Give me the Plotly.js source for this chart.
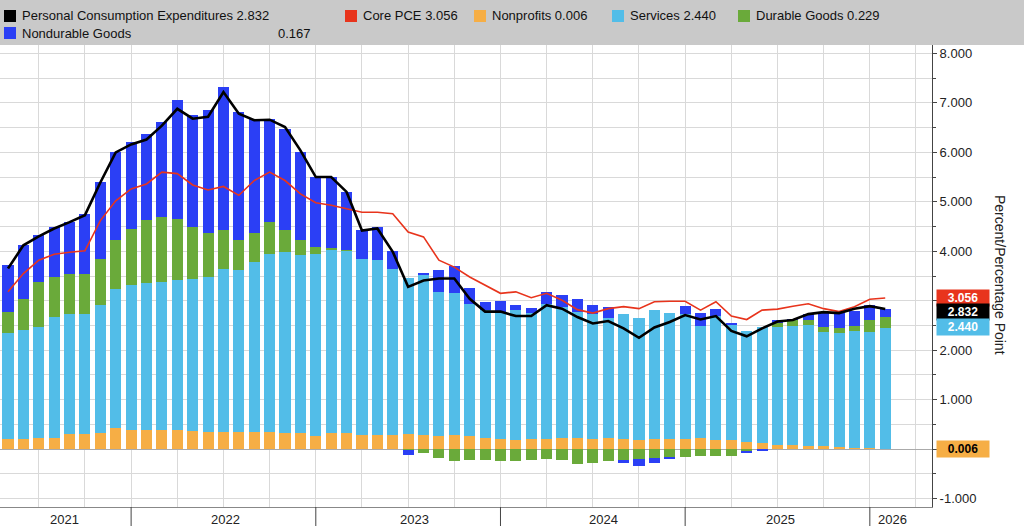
<!DOCTYPE html>
<html>
<head>
<meta charset="utf-8">
<script src="https://cdn.plot.ly/plotly-3.0.1.min.js"></script>
<style>html,body{margin:0;padding:0;background:#fff}#chart{width:1024px;height:526px}</style>
</head>
<body>
<div id="chart"></div>
<script>
// monthly contributions, May 2021 .. Feb 2026 (58 bars), percentage points
const nonprofits = [0.20,0.20,0.22,0.22,0.30,0.30,0.32,0.42,0.38,0.38,0.38,0.38,0.36,0.35,0.35,0.34,0.34,0.34,0.33,0.33,
  0.26,0.33,0.33,0.28,0.28,0.28,0.30,0.28,0.26,0.28,0.26,0.22,0.20,0.19,0.20,0.20,0.22,0.23,0.20,0.22,
  0.20,0.19,0.20,0.20,0.20,0.22,0.19,0.19,0.14,0.13,0.08,0.08,0.07,0.06,0.05,0.03,0.02,0.006];
const services = [2.14,2.20,2.25,2.45,2.44,2.44,2.59,2.81,2.93,2.97,3.00,3.04,3.07,3.13,3.30,3.28,3.44,3.61,3.66,3.59,
  3.69,3.69,3.68,3.57,3.54,3.37,3.15,3.24,2.92,2.87,2.68,2.59,2.58,2.62,2.55,2.74,2.66,2.55,2.53,2.44,
  2.53,2.47,2.62,2.55,2.53,2.26,2.51,2.31,2.25,2.33,2.38,2.40,2.43,2.31,2.30,2.36,2.35,2.440];
const durable = [0.43,0.64,0.91,0.81,0.81,0.81,0.94,0.99,1.15,1.28,1.31,1.24,1.07,0.88,0.77,0.60,0.59,0.64,0.43,0.30,
  0.14,0.04,0.01,0,0,0,-0.02,-0.07,-0.18,-0.23,-0.21,-0.22,-0.23,-0.23,-0.22,-0.19,-0.22,-0.30,-0.29,-0.25,
  -0.22,-0.20,-0.17,-0.15,-0.16,-0.14,-0.14,-0.14,-0.03,0,0.08,0.14,0.11,0.10,0.09,0.09,0.24,0.229];
const nondurable = [0.95,1.08,0.94,1.01,1.04,1.21,1.55,1.79,1.75,1.75,1.92,2.39,2.25,2.49,2.90,2.59,2.31,2.09,2.06,1.79,
  1.41,1.44,1.18,0.57,0.67,0.36,-0.10,0.05,0.44,0.55,0.32,0.17,0.21,0.10,0.11,0.24,0.23,0.26,0.18,0.22,
  -0.06,-0.15,-0.12,-0.05,0.16,0.27,0.14,0.04,-0.05,-0.04,0.07,0.01,0.13,0.30,0.31,0.32,0.30,0.167];
const pce = [3.65,4.12,4.30,4.46,4.59,4.73,5.39,6.00,6.16,6.26,6.54,6.88,6.68,6.72,7.22,6.78,6.65,6.66,6.51,6.04,
  5.50,5.50,5.20,4.42,4.46,3.99,3.28,3.41,3.45,3.45,3.04,2.78,2.78,2.69,2.69,2.91,2.84,2.67,2.54,2.59,
  2.44,2.25,2.46,2.57,2.71,2.62,2.69,2.39,2.28,2.44,2.58,2.61,2.73,2.77,2.75,2.84,2.89,2.832];
const corePce = [3.18,3.55,3.82,3.94,3.98,4.01,4.62,5.02,5.26,5.36,5.60,5.57,5.34,5.24,5.31,5.13,5.43,5.60,5.43,5.16,
  4.98,4.93,4.86,4.79,4.79,4.76,4.39,4.29,3.82,3.68,3.48,3.31,3.15,3.18,3.06,3.15,3.01,2.82,2.75,2.84,
  2.88,2.84,2.98,2.99,2.99,2.81,2.98,2.69,2.62,2.81,2.83,2.89,2.94,2.84,2.78,2.88,3.03,3.056];
const years = ['2021','2022','2023','2024','2025','2026'];
const yearPos = [3.7,14.1,26.4,38.7,50.2,57.5];
const yearBreaks = [8,20,32,44,56];
// right-axis labels; 3 and 0 sit under the value badges
const yTickVals = [-1,0,1,2,3,4,5,6,7,8];
const yTickText = ['-1.000','','1.000','2.000','','4.000','5.000','6.000','7.000','8.000'];

const xs = pce.map((_, i) => i);
const C = {black:'#000000', red:'#e8341c', orange:'#f6ae45', lblue:'#52bde8', green:'#6aaa3a', blue:'#2b3ff5'};
const bar = (y, c) => ({type:'bar', x:xs, y:y, marker:{color:c}, width:0.72, hoverinfo:'y'});

const data = [
  bar(nonprofits, C.orange), bar(services, C.lblue), bar(durable, C.green), bar(nondurable, C.blue),
  {type:'scatter', mode:'lines', x:xs, y:corePce, line:{color:C.red, width:1.6}},
  {type:'scatter', mode:'lines', x:xs, y:pce, line:{color:C.black, width:2.6}}
];

const PW = 932, PH = 462;
const px = v => v / PW;
const py = v => (507 - v) / PH;
const shapes = [
  {type:'rect', xref:'paper', yref:'paper', x0:px(0), x1:px(1024), y0:py(45), y1:py(0), fillcolor:'#c9c9c9', line:{width:0}, layer:'below'}
];
const annotations = [];
const legend = [
  ['Personal Consumption Expenditures 2.832', C.black, 4, 16],
  ['Core PCE 3.056', C.red, 345, 16],
  ['Nonprofits 0.006', C.orange, 474, 16],
  ['Services 2.440', C.lblue, 612, 16],
  ['Durable Goods 0.229', C.green, 738, 16],
  ['Nondurable Goods', C.blue, 4, 33]
];
legend.forEach(([t, c, x, y]) => {
  shapes.push({type:'rect', xref:'paper', yref:'paper', x0:px(x), x1:px(x+12), y0:py(y+6), y1:py(y-6), fillcolor:c, line:{width:0}});
  annotations.push({xref:'paper', yref:'paper', x:px(x+16), y:py(y), text:t, showarrow:false, xanchor:'left', yanchor:'middle', font:{size:13, color:'#111'}});
});
annotations.push({xref:'paper', yref:'paper', x:px(313), y:py(33), text:'0.167', showarrow:false, xanchor:'right', yanchor:'middle', font:{size:13, color:'#111'}});

years.forEach((t, i) => annotations.push({xref:'x', yref:'paper', x:yearPos[i], y:py(519), text:t, showarrow:false, yanchor:'middle', font:{size:13, color:'#222'}}));
yearBreaks.forEach(b => shapes.push({type:'line', xref:'x', yref:'paper', x0:b, x1:b, y0:py(507), y1:py(526), line:{color:'#444', width:1}}));

const badges = [[3.056, 298, C.red, '#fff'], [2.832, 312, C.black, '#fff'], [2.440, 327, C.lblue, '#fff'], [0.006, 449, C.orange, '#000']];
badges.forEach(([v, y, bg, fg]) => annotations.push({xref:'paper', yref:'paper', x:px(936), y:py(y), text:'<b>' + v.toFixed(3) + '</b>', showarrow:false,
  xanchor:'left', yanchor:'middle', bgcolor:bg, font:{size:12, color:fg}, borderpad:1, width:50, align:'center'}));
annotations.push({xref:'paper', yref:'paper', x:px(1010), y:py(275), text:'Percent/Percentage Point', textangle:90, showarrow:false, font:{size:14, color:'#222'}});

const layout = {
  width:1024, height:526, margin:{l:0, r:92, t:45, b:19},
  paper_bgcolor:'#fff', plot_bgcolor:'#fff', barmode:'relative', bargap:0, showlegend:false,
  font:{family:'Liberation Sans, Arial, sans-serif'},
  xaxis:{range:[-0.52, 60.04], tickmode:'linear', tick0:2, dtick:3, showticklabels:false, ticks:'',
    showgrid:true, gridcolor:'#d9d9d9', zeroline:false, showline:true, linecolor:'#888'},
  yaxis:{side:'right', range:[-1.17, 8.17], tickmode:'array', tickvals:yTickVals, ticktext:yTickText,
    ticks:'outside', ticklen:4, tickcolor:'#444', showline:true, linecolor:'#444', showgrid:true, gridcolor:'#d9d9d9',
    minor:{dtick:0.5, showgrid:true, gridcolor:'#d9d9d9', ticks:'outside', ticklen:3, tickcolor:'#444'},
    zeroline:true, zerolinecolor:'#aaa', tickfont:{size:13, color:'#222'}},
  shapes:shapes, annotations:annotations
};
Plotly.newPlot('chart', data, layout, {staticPlot:true});
</script>
</body>
</html>
